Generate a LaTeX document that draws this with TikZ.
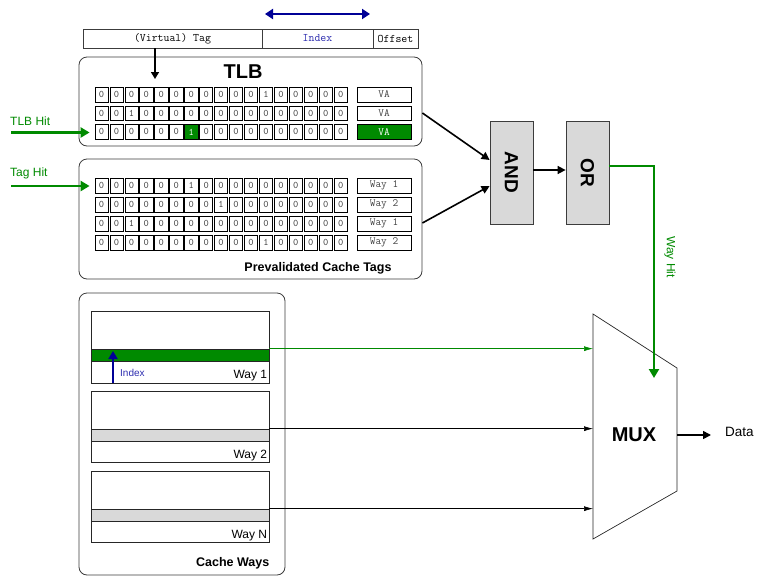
\documentclass[tikz,border=0pt]{standalone}
\usepackage{fontspec}
\setmainfont{Liberation Sans}
\usetikzlibrary{arrows.meta,calc}

\definecolor{hitgreen}{RGB}{0,138,0}
\definecolor{navyblue}{RGB}{0,0,150}
\definecolor{idxblue}{RGB}{45,45,175}
\definecolor{gatefill}{RGB}{217,217,217}
\definecolor{edge}{RGB}{60,60,60}

\tikzset{
  panel/.style={draw=edge, line width=0.8pt, rounded corners=8pt, inner sep=0pt},
  field/.style={draw=edge, line width=0.7pt, minimum height=19pt, inner sep=0pt,
    font=\ttfamily\fontsize{11.5}{12}\selectfont},
  bitcell/.style={draw=black, line width=0.6pt, minimum width=13.2pt, minimum height=14.6pt,
    inner sep=0pt, font=\ttfamily\fontsize{10}{10}\selectfont, text=black!75},
  hotcell/.style={bitcell, fill=hitgreen, text=white},
  tagcell/.style={bitcell, minimum width=54pt, font=\ttfamily\fontsize{11}{11}\selectfont},
  gate/.style={draw=edge, line width=0.8pt, fill=gatefill, minimum width=43pt,
    minimum height=103pt, inner sep=0pt},
  gatetext/.style={font=\fontsize{19}{19}\selectfont\bfseries, rotate=-90},
  waybox/.style={draw=black!85, line width=0.7pt, minimum width=178pt, minimum height=71.5pt, inner sep=0pt},
  band/.style={draw=black!85, line width=0.7pt, minimum width=178pt, minimum height=12pt, inner sep=0pt},
  wire/.style={line width=1.6pt, -{Triangle[length=8pt,width=8pt]}},
  feed/.style={line width=0.6pt, -{Latex[length=9pt,width=5pt]}},
  hitarrow/.style={hitgreen, line width=2.6pt, -{Triangle[length=9pt,width=10pt]}},
  hitlabel/.style={text=hitgreen, font=\fontsize{12}{12}\selectfont, inner sep=0pt},
  title/.style={font=\fontsize{12.5}{13}\selectfont\bfseries, inner sep=0pt},
}

% one row of 17 bit cells; #3 is the highlighted cell (-1 = none)
\newcommand\bitrow[4]{%
  \foreach \b [count=\i from 0] in {#4}{%
    \ifnum\i=#3\relax\tikzset{cellsty/.style={hotcell}}\else\tikzset{cellsty/.style={bitcell}}\fi
    \node[cellsty] (#1-\i) at ({101.5+14.95*\i},#2) {\b};
  }}

\begin{document}
\begin{tikzpicture}[x=1pt,y=-1pt]
\useasboundingbox (0,0) rectangle (758,576);

% ---- virtual address fields
\node[field, minimum width=179pt] (vtag) at (172.5,38.5) {(Virtual) Tag};
\node[field, minimum width=111pt, text=idxblue] (vidx) at (317.5,38.5) {Index};
\node[field, minimum width=45pt] (voff) at (395.5,38.5) {Offset};
\coordinate (spanL) at (265,14);
\coordinate (spanR) at (370,14);
\draw[navyblue, line width=2.6pt, {Triangle[length=8pt,width=10pt]}-{Triangle[length=8pt,width=10pt]}] (spanL) -- (spanR);

% ---- TLB
\node[panel, minimum width=343pt, minimum height=89pt] (tlb) at (250.5,101.5) {};
\node[font=\fontsize{20}{20}\selectfont\bfseries, inner sep=0pt] (tlbtitle) at (243,72) {TLB};
\coordinate (tlbin) at (155,79);
\draw[line width=1.6pt, -{Triangle[length=7pt,width=8pt]}] (vtag.south -| tlbin) -- (tlbin);

\bitrow{ta}{94.5}{-1}{0,0,0,0,0,0,0,0,0,0,0,1,0,0,0,0,0}
\bitrow{tb}{113.2}{-1}{0,0,1,0,0,0,0,0,0,0,0,0,0,0,0,0,0}
\bitrow{tc}{131.9}{6}{0,0,0,0,0,0,1,0,0,0,0,0,0,0,0,0,0}
\node[tagcell] (vaa) at (384,94.5) {VA};
\node[tagcell] (vab) at (384,113.2) {VA};
\node[tagcell, fill=hitgreen, text=white] (vac) at (384,131.9) {VA};

\coordinate (tlbhitsrc) at (11,132.5);
\node[hitlabel, anchor=west] (tlbhit) at (10,121) {TLB Hit};
\draw[hitarrow] (tlbhitsrc) -- ([xshift=-5pt]tc-0.west |- tlbhitsrc);

% ---- prevalidated tags
\node[panel, minimum width=343pt, minimum height=120pt] (tags) at (250.5,219) {};
\node[title] (tagstitle) at (318,268) {Prevalidated Cache Tags};
\bitrow{pa}{185.5}{-1}{0,0,0,0,0,0,1,0,0,0,0,0,0,0,0,0,0}
\bitrow{pb}{204.5}{-1}{0,0,0,0,0,0,0,0,1,0,0,0,0,0,0,0,0}
\bitrow{pc}{223.5}{-1}{0,0,1,0,0,0,0,0,0,0,0,0,0,0,0,0,0}
\bitrow{pd}{242.5}{-1}{0,0,0,0,0,0,0,0,0,0,0,1,0,0,0,0,0}
\node[tagcell] (wa) at (384,185.5) {Way 1};
\node[tagcell] (wb) at (384,204.5) {Way 2};
\node[tagcell] (wc) at (384,223.5) {Way 1};
\node[tagcell] (wd) at (384,242.5) {Way 2};

\coordinate (taghitsrc) at (11,186);
\node[hitlabel, anchor=west] (taghit) at (10,173) {Tag Hit};
\draw[hitarrow] (taghitsrc) -- ([xshift=-5pt]pa-0.west |- taghitsrc);

% ---- AND / OR gates
\node[gate] (and) at (511.5,172.5) {};
\node[gatetext] at (and) {AND};
\node[gate] (or) at (587.5,172.5) {};
\node[gatetext] at (or) {OR};
\draw[wire] ([yshift=-11.5pt]tlb.east) -- ([yshift=12.5pt]and.west);
\draw[wire] ([yshift=-4pt]tags.east) -- ([yshift=-13.5pt]and.west);
\draw[wire] ([yshift=2.5pt]and.east) -- ([yshift=2.5pt]or.west);

% ---- cache ways
\node[panel, minimum width=206pt, minimum height=282pt] (ways) at (182,434) {};
\node[title, anchor=south east] (waystitle) at (269.5,569) {Cache Ways};

\node[waybox] (way1) at (180,347.5) {};
\node[band, fill=hitgreen] (band1) at (180,355) {};
\node[waybox] (way2) at (180,427) {};
\node[band, fill=gatefill] (band2) at (180,435) {};
\node[waybox] (wayn) at (180,507) {};
\node[band, fill=gatefill] (bandn) at (180,515) {};
\node[anchor=south east, font=\fontsize{12}{12}\selectfont, inner sep=2pt] at (way1.south east) {Way 1};
\node[anchor=south east, font=\fontsize{12}{12}\selectfont, inner sep=2pt] at (way2.south east) {Way 2};
\node[anchor=south east, font=\fontsize{12}{12}\selectfont, inner sep=2pt] at (wayn.south east) {Way N};

\coordinate (idxfoot) at (113,383);
\draw[navyblue, line width=2.6pt, -{Triangle[length=8pt,width=9pt]}] (idxfoot) -- (113,351);
\node[anchor=west, text=idxblue, font=\fontsize{10}{10}\selectfont, inner sep=0pt] (idxlabel) at (120,372.5) {Index};

% ---- multiplexer
\coordinate (muxNW) at (593,314);
\coordinate (muxNE) at (677,368);
\coordinate (muxSE) at (677,491);
\coordinate (muxSW) at (593,539);
\draw[line width=0.7pt, black!85] (muxNW) -- (muxNE) -- (muxSE) -- (muxSW) -- cycle;
\node[font=\fontsize{20}{20}\selectfont\bfseries, inner sep=0pt] (mux) at (634,435) {MUX};

\draw[feed, hitgreen] (band1.north east) -- (band1.north east -| muxNW);
\draw[feed] (band2.north east) -- (band2.north east -| muxNW);
\draw[feed] (bandn.north east) -- (bandn.north east -| muxNW);

\coordinate (wayhitend) at (654,378);
\draw[hitgreen, line width=2.2pt, -{Triangle[length=9pt,width=10pt]}] ([yshift=6.5pt]or.east) -| (wayhitend);
\node[hitlabel, rotate=-90] (wayhit) at (670,257) {Way Hit};

\coordinate (dataout) at (711,435);
\draw[wire] (muxSE |- dataout) -- (dataout);
\node[anchor=west, font=\fontsize{13.5}{14}\selectfont, inner sep=0pt] (data) at (725,432) {Data};
\end{tikzpicture}
\end{document}
